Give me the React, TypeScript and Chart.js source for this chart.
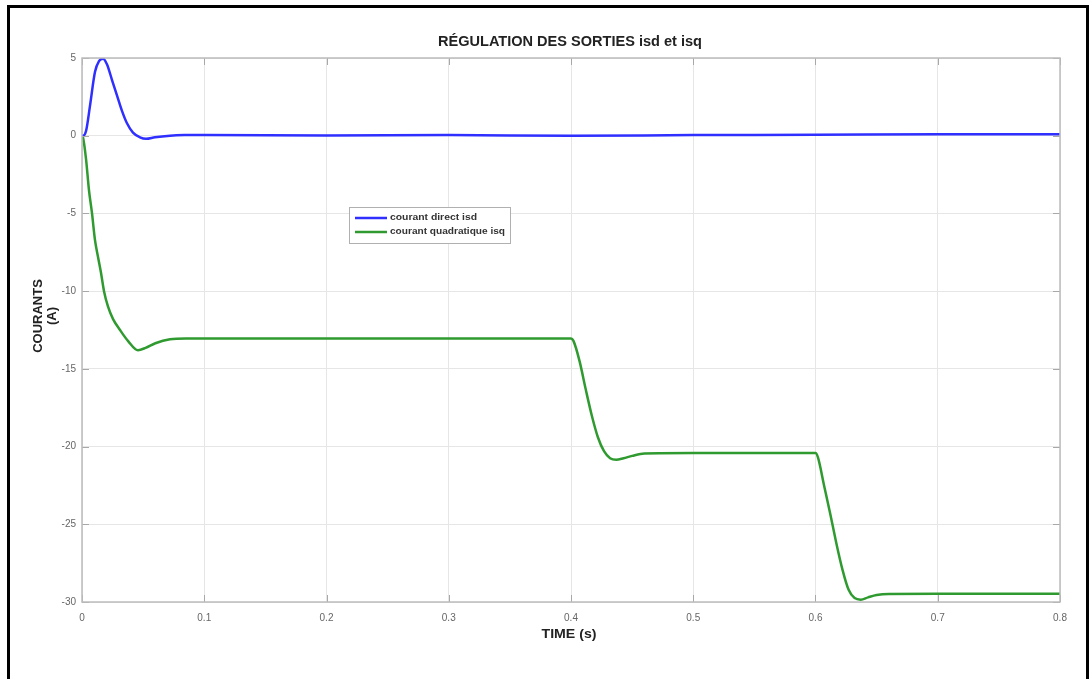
import React, { useEffect, useRef } from "react";
import { Chart, registerables } from "chart.js";

Chart.register(...registerables);

// ---------- data ----------
const TITLE = "RÉGULATION DES SORTIES isd et isq";
const X_TITLE = "TIME (s)";
const Y_TITLE_LINES = ["COURANTS", "(A)"];
const SERIES_LABELS = ["courant direct isd", "courant quadratique isq"];

const X_TICKS = [0, 0.1, 0.2, 0.3, 0.4, 0.5, 0.6, 0.7, 0.8];
const X_TICK_LABELS = ["0", "0.1", "0.2", "0.3", "0.4", "0.5", "0.6", "0.7", "0.8"];
const Y_TICKS = [-30, -25, -20, -15, -10, -5, 0, 5];
const Y_TICK_LABELS = ["-30", "-25", "-20", "-15", "-10", "-5", "0", "5"];

const T_ISD = [0, 0.0008, 0.0033, 0.0065, 0.0106, 0.0139, 0.0172, 0.0204, 0.0245, 0.0286, 0.0327, 0.0368, 0.0417, 0.0474, 0.0524, 0.0597, 0.072, 0.084, 0.1, 0.2, 0.3, 0.4, 0.5, 0.6, 0.7, 0.8];
const ISD = [0, 0, 0.3, 1.9, 4.1, 4.8, 4.95, 4.6, 3.6, 2.6, 1.6, 0.8, 0.2, -0.1, -0.2, -0.1, 0.0, 0.04, 0.05, 0.02, 0.04, 0.0, 0.04, 0.06, 0.1, 0.1];

const T_ISQ = [0, 0.0008, 0.0033, 0.0057, 0.0082, 0.0106, 0.0131, 0.0155, 0.018, 0.0213, 0.0254, 0.0311, 0.0376, 0.0458, 0.052, 0.06, 0.072, 0.085, 0.1, 0.2, 0.3, 0.4, 0.402, 0.407, 0.412, 0.417, 0.422, 0.427, 0.432, 0.437, 0.443, 0.45, 0.46, 0.5, 0.6, 0.602, 0.607, 0.612, 0.617, 0.622, 0.627, 0.632, 0.637, 0.643, 0.65, 0.66, 0.7, 0.8];
const ISQ = [0, -0.1, -1.5, -3.5, -5.0, -6.7, -7.8, -8.8, -10.0, -11.0, -11.8, -12.5, -13.2, -13.8, -13.65, -13.35, -13.1, -13.05, -13.05, -13.05, -13.05, -13.05, -13.2, -14.5, -16.3, -18.0, -19.4, -20.3, -20.75, -20.85, -20.75, -20.6, -20.45, -20.42, -20.42, -20.7, -22.5, -24.3, -26.2, -27.9, -29.2, -29.75, -29.85, -29.7, -29.55, -29.48, -29.47, -29.47];

const BLUE = "#2f2fff";
const GREEN = "#2f9a2f";

function toPoints(xs: number[], ys: number[]) {
  return xs.map((x, i) => ({ x, y: ys[i] }));
}

function drawFitted(
  ctx: CanvasRenderingContext2D,
  text: string,
  x: number,
  y: number,
  font: string,
  targetW: number | null,
  align: CanvasTextAlign,
  color: string,
  rotate = 0
) {
  ctx.save();
  ctx.font = font;
  const w = ctx.measureText(text).width;
  const sx = targetW ? targetW / w : 1;
  ctx.translate(x, y);
  if (rotate) ctx.rotate(rotate);
  ctx.scale(sx, 1);
  ctx.textAlign = align;
  ctx.textBaseline = "middle";
  ctx.fillStyle = color;
  ctx.fillText(text, 0, 0);
  ctx.restore();
}

const decorPlugin = {
  id: "decor",
  afterDatasetsDraw(chart: any) {
    const ctx: CanvasRenderingContext2D = chart.ctx;
    const { left, right, top, bottom } = chart.chartArea;
    const xs = chart.scales.x;
    const ys = chart.scales.y;
    ctx.save();
    // inner tick marks
    ctx.strokeStyle = "#a8a8a8";
    ctx.lineWidth = 1;
    ctx.beginPath();
    X_TICKS.forEach((v) => {
      const px = Math.round(xs.getPixelForValue(v)) + 0.5;
      ctx.moveTo(px, bottom);
      ctx.lineTo(px, bottom - 7);
      ctx.moveTo(px, top);
      ctx.lineTo(px, top + 7);
    });
    Y_TICKS.forEach((v) => {
      const py = Math.round(ys.getPixelForValue(v)) + 0.5;
      ctx.moveTo(left, py);
      ctx.lineTo(left + 7, py);
      ctx.moveTo(right, py);
      ctx.lineTo(right - 7, py);
    });
    ctx.stroke();
    // axes box
    ctx.strokeStyle = "#bcbcbc";
    ctx.lineWidth = 1.5;
    ctx.strokeRect(left, top, right - left, bottom - top);
    ctx.restore();

    // legend
    const lx = 349.5, ly = 207.5, lw = 161, lh = 36;
    ctx.save();
    ctx.fillStyle = "#ffffff";
    ctx.fillRect(lx, ly, lw, lh);
    ctx.strokeStyle = "#b0b0b0";
    ctx.lineWidth = 1;
    ctx.strokeRect(lx, ly, lw, lh);
    const rows = [218, 232];
    const widths = [87, 115];
    chart.data.datasets.forEach((ds: any, i: number) => {
      ctx.strokeStyle = ds.borderColor;
      ctx.lineWidth = 2.5;
      ctx.beginPath();
      ctx.moveTo(355, rows[i]);
      ctx.lineTo(387, rows[i]);
      ctx.stroke();
      drawFitted(ctx, ds.label, 390, rows[i], "bold 9px 'Liberation Sans', Arial, sans-serif", widths[i], "left", "#333333");
    });
    ctx.restore();

    // titles
    drawFitted(ctx, TITLE, 570, 42, "bold 14px 'Liberation Sans', Arial, sans-serif", 264, "center", "#222222");
    drawFitted(ctx, X_TITLE, 569, 634, "bold 13px 'Liberation Sans', Arial, sans-serif", 55, "center", "#222222");
    drawFitted(ctx, Y_TITLE_LINES[0], 38, 316, "bold 13px 'Liberation Sans', Arial, sans-serif", null, "center", "#222222", -Math.PI / 2);
    drawFitted(ctx, Y_TITLE_LINES[1], 52, 316, "bold 13px 'Liberation Sans', Arial, sans-serif", null, "center", "#222222", -Math.PI / 2);
  },
};

export default function App() {
  const ref = useRef<HTMLCanvasElement | null>(null);

  useEffect(() => {
    if (!ref.current) return;
    const chart = new Chart(ref.current, {
      type: "line",
      data: {
        datasets: [
          {
            label: SERIES_LABELS[0],
            data: toPoints(T_ISD, ISD),
            borderColor: BLUE,
            backgroundColor: BLUE,
            borderWidth: 2.5,
            pointRadius: 0,
            cubicInterpolationMode: "monotone",
          },
          {
            label: SERIES_LABELS[1],
            data: toPoints(T_ISQ, ISQ),
            borderColor: GREEN,
            backgroundColor: GREEN,
            borderWidth: 2.5,
            pointRadius: 0,
            cubicInterpolationMode: "monotone",
          },
        ],
      },
      options: {
        responsive: false,
        animation: false,
        parsing: true,
        layout: { padding: { left: 0, right: 29, top: 58, bottom: 0 } },
        plugins: {
          legend: { display: false },
          title: { display: false },
          tooltip: { enabled: false },
        },
        scales: {
          x: {
            type: "linear",
            min: 0,
            max: 0.8,
            afterBuildTicks: (scale: any) => {
              scale.ticks = X_TICKS.map((v) => ({ value: v }));
            },
            afterFit: (scale: any) => {
              scale.height = 77;
            },
            ticks: {
              padding: 10,
              maxRotation: 0,
              autoSkip: false,
              color: "#666666",
              font: { size: 10, family: "'Liberation Sans', Arial, sans-serif" },
              callback: (v: any) => {
                const i = X_TICKS.findIndex((t) => Math.abs(t - v) < 1e-9);
                return i >= 0 ? X_TICK_LABELS[i] : "";
              },
            },
            grid: { color: "#e6e6e6", lineWidth: 1, drawTicks: false },
            border: { display: false },
          },
          y: {
            type: "linear",
            min: -30,
            max: 5,
            afterBuildTicks: (scale: any) => {
              scale.ticks = Y_TICKS.map((v) => ({ value: v }));
            },
            afterFit: (scale: any) => {
              scale.width = 82;
            },
            ticks: {
              padding: 6,
              autoSkip: false,
              color: "#666666",
              font: { size: 10, family: "'Liberation Sans', Arial, sans-serif" },
              callback: (v: any) => {
                const i = Y_TICKS.findIndex((t) => Math.abs(t - v) < 1e-9);
                return i >= 0 ? Y_TICK_LABELS[i] : "";
              },
            },
            grid: { color: "#e6e6e6", lineWidth: 1, drawTicks: false },
            border: { display: false },
          },
        },
      },
      plugins: [decorPlugin],
    } as any);
    return () => chart.destroy();
  }, []);

  return (
    <div
      style={{
        position: "fixed",
        left: 0,
        top: 0,
        width: 1089,
        height: 679,
        overflow: "hidden",
        background: "#ffffff",
      }}
    >
      <canvas
        ref={ref}
        width={1089}
        height={679}
        style={{ position: "absolute", left: 0, top: 0, width: 1089, height: 679, display: "block" }}
      />
      <div
        style={{
          position: "absolute",
          left: 7,
          top: 5,
          width: 1082,
          height: 700,
          border: "3px solid #000000",
          boxSizing: "border-box",
          pointerEvents: "none",
        }}
      />
    </div>
  );
}
